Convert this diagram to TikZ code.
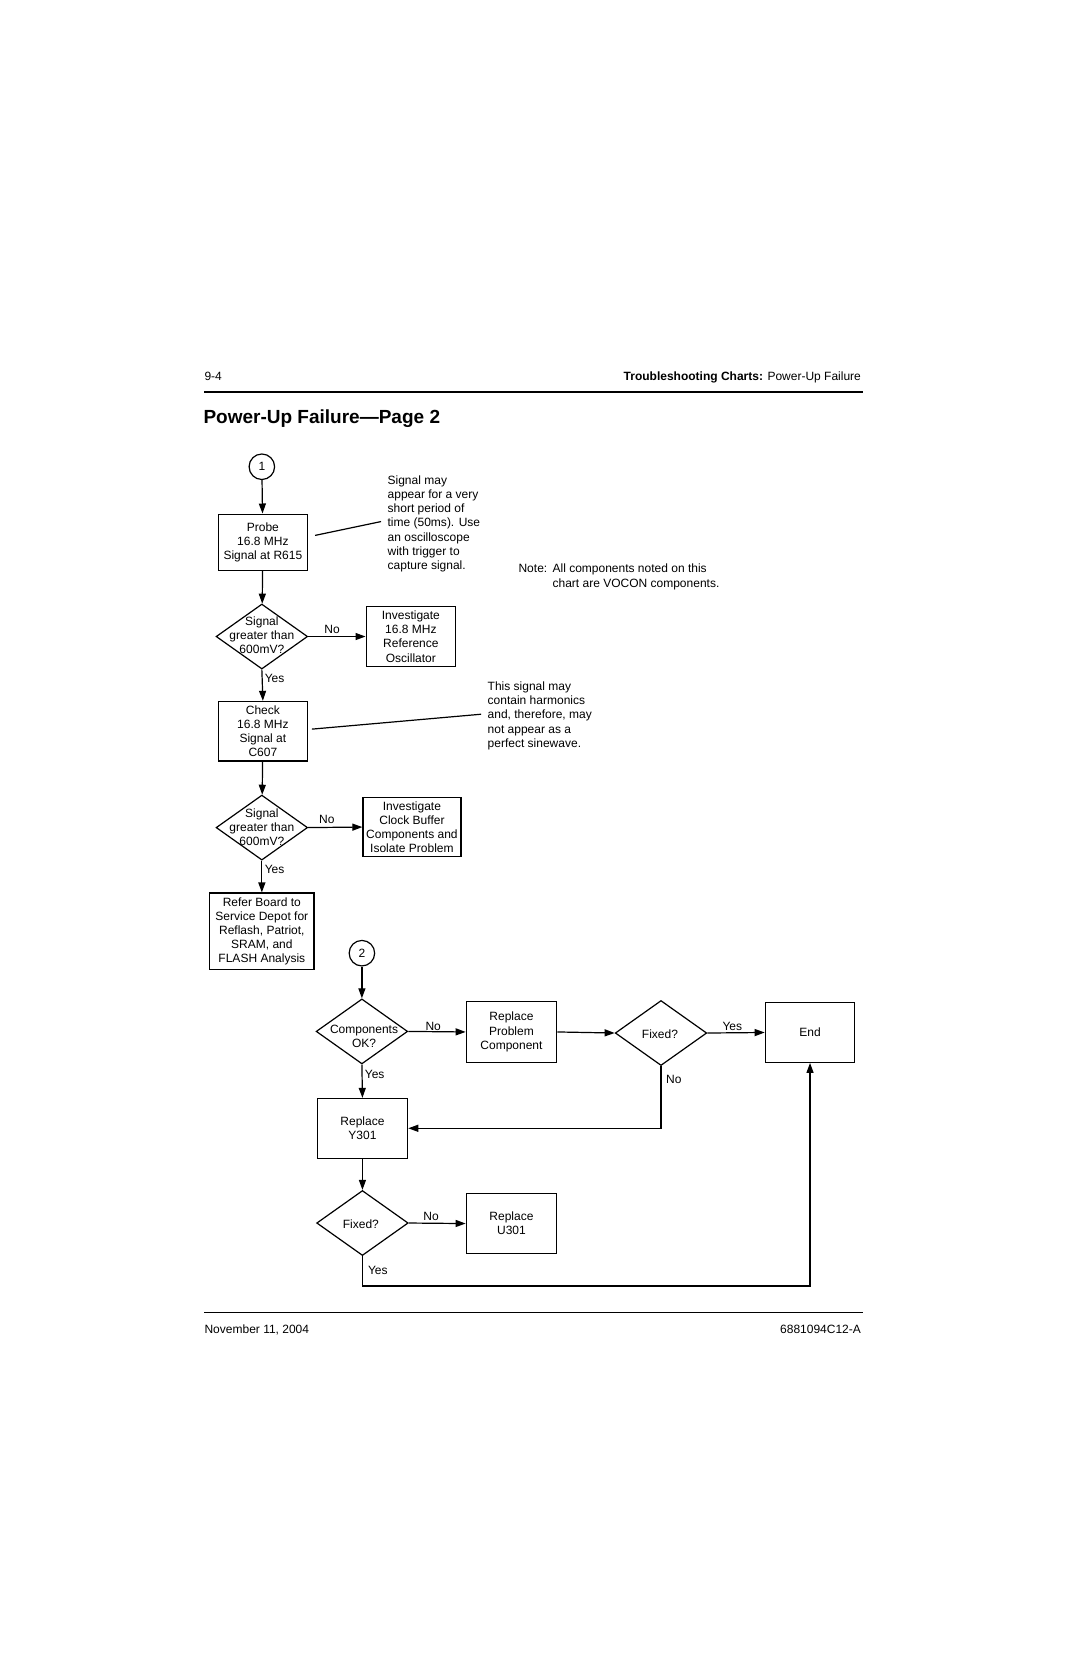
\documentclass[tikz,border=0pt]{standalone}
\usepackage{fontspec}
\setmainfont{Liberation Sans}
\usetikzlibrary{shapes.geometric,arrows.meta}
\begin{document}
\begin{tikzpicture}[x=1.06404pt,y=-1.06404pt,
  every node/.style={font=\fontsize{12}{14.2}\selectfont},
  box/.style={draw,line width=1.2pt,align=center,inner sep=2pt},
  diam/.style={draw,diamond,line width=1.2pt,inner sep=0pt,minimum width=91.5pt,minimum height=65pt},
  conn/.style={draw,circle,line width=1.2pt,minimum size=25.5pt,inner sep=0pt},
  arr/.style={line width=1.2pt,-{Triangle[length=10pt,width=7pt]}},
  ln/.style={line width=1.2pt},
  lab/.style={inner sep=1pt}]
\path[use as bounding box] (0,0) rectangle (1015,1568);
% header / footer
\node[anchor=base west,inner sep=0pt] (pg) at (192,357.5) {9-4};
\node[anchor=base east,inner sep=0pt] (hd) at (809,357.5) {\textbf{Troubleshooting Charts:} Power-Up Failure};
\draw[line width=1.6pt] (192,368) -- (811,368);
\node[anchor=base west,inner sep=0pt,font=\fontsize{19}{22}\selectfont\bfseries] (title) at (191,397.5) {Power-Up Failure—Page 2};
\draw[line width=1.6pt] (192,1233) -- (811,1233);
\node[anchor=base west,inner sep=0pt] (date) at (192,1252.5) {November 11, 2004};
\node[anchor=base east,inner sep=0pt] (doc) at (809,1252.5) {6881094C12-A};
% part 1
\node[conn] (c1) at (246,438.5) {1};
\node[box,minimum width=89.4pt,minimum height=56.4pt] (probe) at (247,509.5) {Probe\\16.8 MHz\\Signal at R615};
\node[diam] (d1) at (246,598) {};
\node[align=center,inner sep=0pt] (d1t) at (246,596.5) {Signal\\greater than\\600mV?};
\node[box,minimum width=89.4pt,minimum height=59.6pt] (inv1) at (386,598) {Investigate\\16.8 MHz\\Reference\\Oscillator};
\node[box,minimum width=89.4pt,minimum height=59.6pt] (check) at (247,687) {Check\\16.8 MHz\\Signal at\\C607};
\node[diam] (d2) at (246,777.5) {};
\node[align=center,inner sep=0pt] (d2t) at (246,777) {Signal\\greater than\\600mV?};
\node[box,minimum width=97.9pt,minimum height=59.6pt] (inv2) at (387,777) {Investigate\\Clock Buffer\\Components and\\Isolate Problem};
\node[box,minimum width=104.3pt,minimum height=76.6pt] (refer) at (246,875) {Refer Board to\\Service Depot for\\Reflash, Patriot,\\SRAM, and\\FLASH Analysis};
% callouts
\node[anchor=west,align=left,inner sep=0pt] (note1) at (364,492) {Signal may\\appear for a very\\short period of\\time (50ms). Use\\an oscilloscope\\with trigger to\\capture signal.};
\coordinate (co1a) at (296,503);
\coordinate (co1b) at (358,490);
\draw[ln] (co1a) -- (co1b);
\node[anchor=west,align=left,inner sep=0pt] (note2) at (458,672.5) {This signal may\\contain harmonics\\and, therefore, may\\not appear as a\\perfect sinewave.};
\coordinate (co2a) at (293,685);
\coordinate (co2b) at (452,671);
\draw[ln] (co2a) -- (co2b);
\node[anchor=west,align=left,inner sep=0pt] (note3) at (487,542) {\makebox[34pt][l]{Note:}All components noted on this\\\hspace*{34pt}chart are VOCON components.};
% connectors part 1
\draw[arr] (c1) -- (probe);
\draw[arr] (probe) -- (d1);
\draw[arr] (d1.east) -- (inv1.west);
\node[lab] (no1) at (312,591) {No};
\draw[arr] (d1.south) -- (check.north);
\node[lab] (yes1) at (258,637) {Yes};
\draw[arr] (check) -- (d2);
\draw[arr] (d2.east) -- (inv2.west);
\node[lab] (no2) at (307,770) {No};
\draw[arr] (d2.south) -- (refer.north);
\node[lab] (yes2) at (258,817) {Yes};
% part 2
\node[conn] (c2) at (340,895.5) {2};
\node[diam] (d3) at (340,969) {};
\node[align=center,inner sep=0pt] (d3t) at (342,974) {Components\\OK?};
\node[box,minimum width=90.4pt,minimum height=60.6pt] (rpc) at (480.5,969.5) {Replace\\Problem\\Component};
\node[diam] (f1) at (621,970.5) {};
\node[inner sep=0pt] (f1t) at (620,972) {Fixed?};
\node[box,minimum width=89.4pt,minimum height=59.6pt] (end) at (761,970) {End};
\node[box,minimum width=90.4pt,minimum height=59.6pt] (y301) at (340.5,1060) {Replace\\Y301};
\node[diam] (f2) at (340.5,1149) {};
\node[inner sep=0pt] (f2t) at (339,1150) {Fixed?};
\node[box,minimum width=90.4pt,minimum height=59.6pt] (u301) at (480.5,1149.5) {Replace\\U301};
% connectors part 2
\draw[arr] (c2) -- (d3);
\draw[arr] (d3.east) -- (rpc.west);
\node[lab] (no3) at (407,964) {No};
\draw[arr] (rpc.east) -- (f1.west);
\draw[arr] (f1.east) -- (end.west);
\node[lab] (yes3) at (688,964) {Yes};
\draw[arr] (f1.south) |- (y301.east);
\node[lab] (no4) at (633,1014) {No};
\draw[arr] (d3.south) -- (y301.north);
\node[lab] (yes4) at (352,1009) {Yes};
\draw[arr] (y301) -- (f2);
\draw[arr] (f2.east) -- (u301.west);
\node[lab] (no5) at (405,1143) {No};
\draw[arr] (f2.south) -- ++(0,28) -| (end.south);
\node[lab] (yes5) at (355,1194) {Yes};
\end{tikzpicture}
\end{document}
